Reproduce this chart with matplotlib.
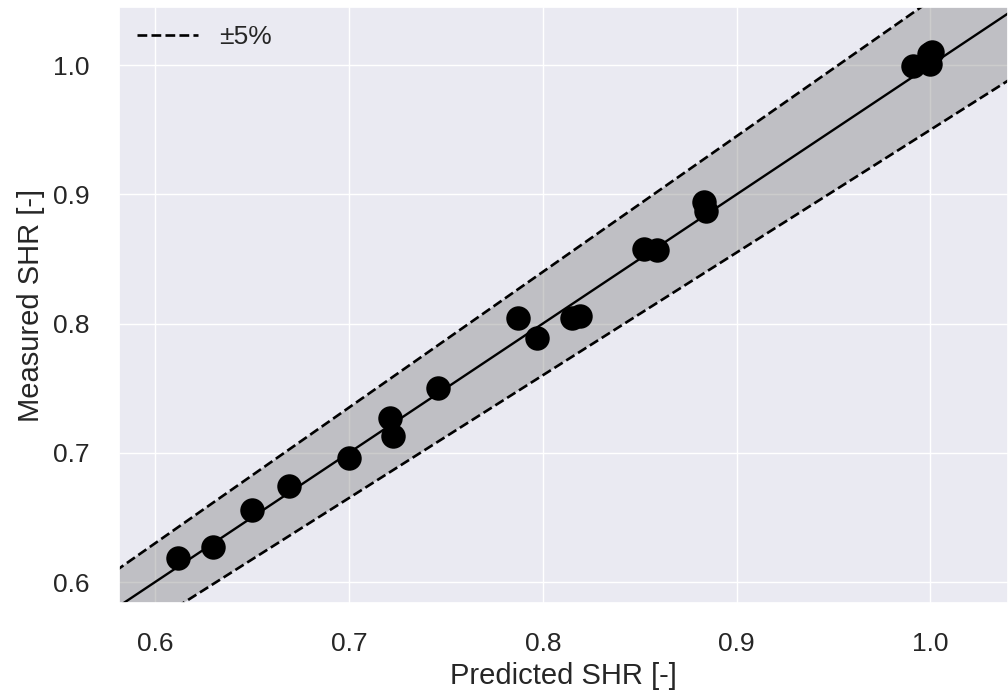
import numpy as np
import matplotlib
matplotlib.use("Agg")
import matplotlib.pyplot as plt
import seaborn as sns

sns.set_theme(style="darkgrid")
plt.rcParams['font.family'] = ['Liberation Sans', 'DejaVu Sans']

# predicted vs measured sensible heat ratio
predicted = [0.612, 0.630, 0.650, 0.669, 0.700, 0.721, 0.723, 0.746,
             0.787, 0.797, 0.815, 0.819, 0.852, 0.859, 0.883, 0.884,
             0.991, 0.999, 1.000, 1.001]
measured = [0.619, 0.627, 0.656, 0.674, 0.696, 0.727, 0.713, 0.750,
            0.804, 0.789, 0.804, 0.806, 0.858, 0.857, 0.894, 0.887,
            0.999, 1.009, 1.001, 1.010]
tol = 0.05

fig = plt.figure(figsize=(10.08, 6.95), dpi=100)
ax = fig.add_axes([119 / 1008, 92 / 695, 889 / 1008, 596 / 695])

xlim = (0.5814, 1.040)
ylim = (0.5838, 1.045)
xx = np.linspace(0.55, 1.1, 50)

ax.fill_between(xx, xx * (1 - tol), xx * (1 + tol), color='gray', alpha=0.4, linewidth=0)
ax.plot(xx, xx, color='black', lw=1.7)
ax.plot(xx, xx * (1 + tol), color='black', ls='--', lw=1.9, label='±5%')
ax.plot(xx, xx * (1 - tol), color='black', ls='--', lw=1.9)
ax.scatter(predicted, measured, s=310, color='black', zorder=5, linewidths=0)

ax.set_xlim(xlim)
ax.set_ylim(ylim)
ax.set_xticks([0.6, 0.7, 0.8, 0.9, 1.0])
ax.set_yticks([0.6, 0.7, 0.8, 0.9, 1.0])
ax.tick_params(labelsize=19, colors='#262626', pad=15)
ax.set_xlabel('Predicted SHR [-]', fontsize=21, color='#262626', labelpad=4)
ax.set_ylabel('Measured SHR [-]', fontsize=21, color='#262626', labelpad=6)
ax.legend(loc='upper left', fontsize=19, frameon=False, handlelength=2.3,
          borderaxespad=0.3)

fig.savefig('out.png', dpi=100)
